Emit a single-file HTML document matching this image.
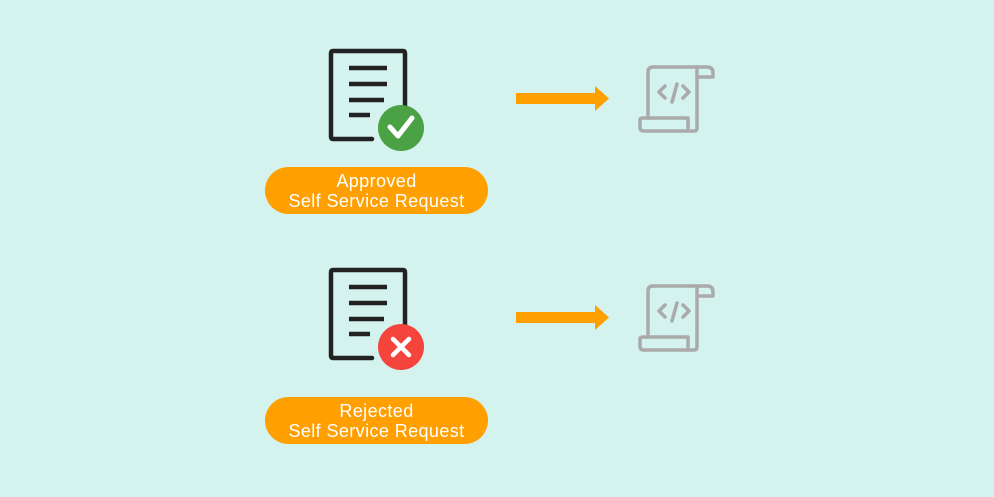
<!DOCTYPE html>
<html><head><style>
body{margin:0;width:994px;height:497px;background:#d4f3ee;position:relative;overflow:hidden;font-family:"Liberation Sans",sans-serif}
.pill{position:absolute;left:265px;width:223px;height:47px;border-radius:24px;background:#ff9f00;color:#fff;font-size:18px;letter-spacing:0.4px;line-height:20px;text-align:center;box-sizing:border-box;padding-top:4px}
svg{position:absolute;left:0;top:0}
</style></head><body>
<svg width="994" height="497">
<defs>
<g id="doc">
<path d="M372 139 H333 Q331 139 331 137 V53 Q331 51 333 51 H403 Q405 51 405 53 V112" fill="none" stroke="#222" stroke-width="4.5" stroke-linecap="round"/>
<g stroke="#222" stroke-width="4.5"><line x1="349" y1="68" x2="387" y2="68"/><line x1="349" y1="84" x2="387" y2="84"/><line x1="349" y1="100" x2="384" y2="100"/><line x1="349" y1="115" x2="370" y2="115"/></g>
</g>
<g id="arrow"><rect x="516" y="93" width="81" height="11" fill="#ff9f00"/><polygon points="595,86 609,98.5 595,111" fill="#ff9f00"/></g>
<g id="script" fill="none" stroke="#aaa" stroke-width="3.5" stroke-linejoin="round" stroke-linecap="round">
<path d="M648 118 V72 Q648 67 653 67 H707 Q713 67 713 73 V77 H697"/>
<path d="M697 67 V128 Q697 131 694 131 H644 Q640 131 640 127 V120 Q640 118 643 118 H688 V128"/>
<path d="M665 86 L659 92 L665 98 M683 86 L689 92 L683 98 M677 84 L672 102"/>
</g>
</defs>
<use href="#doc"/><use href="#arrow"/><use href="#script"/>
<circle cx="401" cy="128" r="23" fill="#4ba244"/>
<path d="M390 127 L398 136 L412 118" fill="none" stroke="#fff" stroke-width="5" stroke-linecap="round" stroke-linejoin="round"/>
<g transform="translate(0,219)"><use href="#doc"/><use href="#arrow"/><use href="#script"/>
<circle cx="401" cy="128" r="23" fill="#f4443c"/>
<path d="M393 120 L409 136 M409 120 L393 136" stroke="#fff" stroke-width="4.5" stroke-linecap="round"/>
</g>
</svg>
<div class="pill" style="top:167px">Approved<br>Self Service Request</div>
<div class="pill" style="top:397px">Rejected<br>Self Service Request</div>
</body></html>
